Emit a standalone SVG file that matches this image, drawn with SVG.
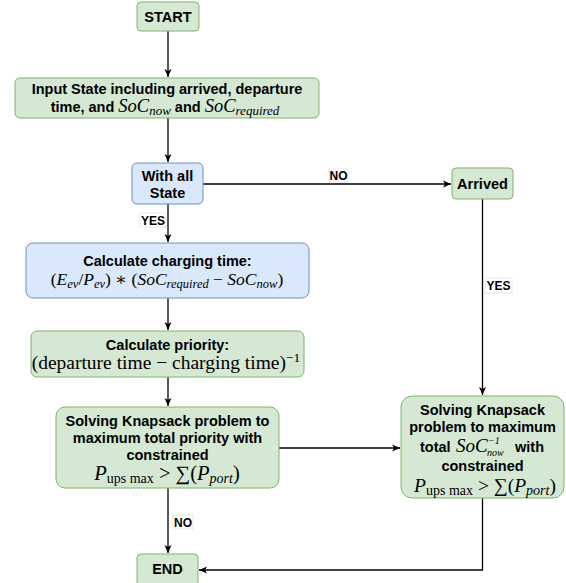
<svg xmlns="http://www.w3.org/2000/svg" width="566" height="583" viewBox="0 0 566 583">
<defs>
<style>
.g{fill:#d5e8d4;stroke:#82b366;stroke-width:1}
.b{fill:#dae8fc;stroke:#6c8ebf;stroke-width:1}
.t{font-family:"Liberation Sans",Arial,sans-serif;font-weight:bold;font-size:14.5px;fill:#000}
.m{font-family:"Liberation Serif","DejaVu Serif",serif;font-weight:normal;font-style:italic}
.u{font-family:"Liberation Serif","DejaVu Serif",serif;font-weight:normal;font-style:normal}
.e{stroke:#000;stroke-width:1.3;fill:none;marker-end:url(#a)}
.lb{fill:#fff;stroke:#e4e4e4;stroke-width:0.8}
.lt{font-family:"Liberation Sans",Arial,sans-serif;font-weight:bold;font-size:12px;fill:#000;text-anchor:middle}
</style>
<marker id="a" markerUnits="userSpaceOnUse" markerWidth="10" markerHeight="10" refX="8" refY="4" orient="auto">
<path d="M0,0.5 L8,4 L0,7.5 L2,4 z" fill="#000"/>
</marker>
</defs>

<g id="connectors">
<path class="e" d="M168,31 V77"/>
<path class="e" d="M168,118 V162"/>
<path class="e" d="M203,184 H451"/>
<path class="e" d="M168,204 V242"/>
<path class="e" d="M168,298 V330"/>
<path class="e" d="M168,377 V406"/>
<path class="e" d="M168,488 V553"/>
<path class="e" d="M482.5,199 V395"/>
<path class="e" d="M279,448 H400"/>
<path class="e" d="M482.5,498 V570 H199"/>
<rect class="lb" x="329" y="169" width="19" height="13"/>
<text class="lt" x="338.5" y="180">NO</text>
<rect class="lb" x="140" y="213" width="26" height="14"/>
<text class="lt" x="153" y="224.5">YES</text>
<rect class="lb" x="485" y="278" width="27" height="15"/>
<text class="lt" x="498.5" y="290">YES</text>
<rect class="lb" x="173" y="515" width="20" height="14"/>
<text class="lt" x="183" y="526.5">NO</text>
</g>

<g id="start">
<rect class="g" x="137" y="2" width="62" height="29" rx="4"/>
<text class="t" x="168" y="22" text-anchor="middle">START</text>
</g>

<g id="input">
<rect class="g" x="15" y="78" width="304" height="40" rx="5"/>
<text class="t" x="167" y="94" text-anchor="middle">Input State including arrived, departure</text>
<text class="t" x="165" y="112" text-anchor="middle">time, and <tspan class="m" font-size="18.5">SoC</tspan><tspan class="m" font-size="13" dy="3">now</tspan><tspan dy="-3"> and </tspan><tspan class="m" font-size="18.5">SoC</tspan><tspan class="m" font-size="13" dy="3">required</tspan></text>
</g>

<g id="withall">
<rect class="b" x="132" y="163" width="71" height="41" rx="5"/>
<text class="t" x="167.5" y="181" text-anchor="middle">With all</text>
<text class="t" x="167.5" y="198" text-anchor="middle">State</text>
</g>

<g id="arrived">
<rect class="g" x="452" y="168" width="61" height="31" rx="4"/>
<text class="t" x="482.5" y="189" text-anchor="middle">Arrived</text>
</g>

<g id="chargetime">
<rect class="b" x="26" y="243" width="283" height="55" rx="7"/>
<text class="t" x="167.5" y="266" text-anchor="middle">Calculate charging time:</text>
<text class="u" font-size="17.5" x="167" y="285" text-anchor="middle">(<tspan class="m">E</tspan><tspan class="m" font-size="12.5" dy="3">ev</tspan><tspan dy="-3">/</tspan><tspan class="m">P</tspan><tspan class="m" font-size="12.5" dy="3">ev</tspan><tspan dy="-3">) ∗ (</tspan><tspan class="m">SoC</tspan><tspan class="m" font-size="12.5" dy="3">required</tspan><tspan dy="-3"> − </tspan><tspan class="m">SoC</tspan><tspan class="m" font-size="12.5" dy="3">now</tspan><tspan dy="-3">)</tspan></text>
</g>

<g id="priority">
<rect class="g" x="31" y="331" width="273" height="46" rx="6"/>
<text class="t" x="167.5" y="350" text-anchor="middle">Calculate priority:</text>
<text class="u" font-size="19.5" x="166" y="369" text-anchor="middle">(departure time − charging time)<tspan font-size="13.5" dy="-7">−1</tspan></text>
</g>

<g id="knapsack1">
<rect class="g" x="56" y="407" width="223" height="81" rx="9"/>
<text class="t" x="167.5" y="426" text-anchor="middle">Solving Knapsack problem to</text>
<text class="t" x="167.5" y="443" text-anchor="middle">maximum total priority with</text>
<text class="t" x="167.5" y="460" text-anchor="middle">constrained</text>
<text class="u" font-size="20.5" x="167" y="480" text-anchor="middle"><tspan class="m">P</tspan><tspan font-size="14" dy="3">ups max</tspan><tspan dy="-3"> &gt; ∑(</tspan><tspan class="m">P</tspan><tspan class="m" font-size="14" dy="3">port</tspan><tspan dy="-3">)</tspan></text>
</g>

<g id="knapsack2">
<rect class="g" x="401" y="396" width="163" height="102" rx="11"/>
<text class="t" x="482.5" y="415" text-anchor="middle">Solving Knapsack</text>
<text class="t" x="482.5" y="432" text-anchor="middle">problem to maximum</text>
<text class="t" x="420" y="452">total</text>
<text class="m" font-size="19" x="456" y="452">SoC</text>
<text class="m" font-size="10" x="488" y="444">−1</text>
<text class="m" font-size="10" x="487" y="455.5">now</text>
<text class="t" x="515" y="452">with</text>
<text class="t" x="482.5" y="471" text-anchor="middle">constrained</text>
<text class="u" font-size="19.5" x="485" y="491.5" text-anchor="middle"><tspan class="m">P</tspan><tspan font-size="14" dy="3">ups max</tspan><tspan dy="-3"> &gt; ∑(</tspan><tspan class="m">P</tspan><tspan class="m" font-size="14" dy="3">port</tspan><tspan dy="-3">)</tspan></text>
</g>

<g id="end">
<rect class="g" x="137" y="554" width="61" height="32" rx="4"/>
<text class="t" x="167.5" y="574" text-anchor="middle">END</text>
</g>
</svg>
